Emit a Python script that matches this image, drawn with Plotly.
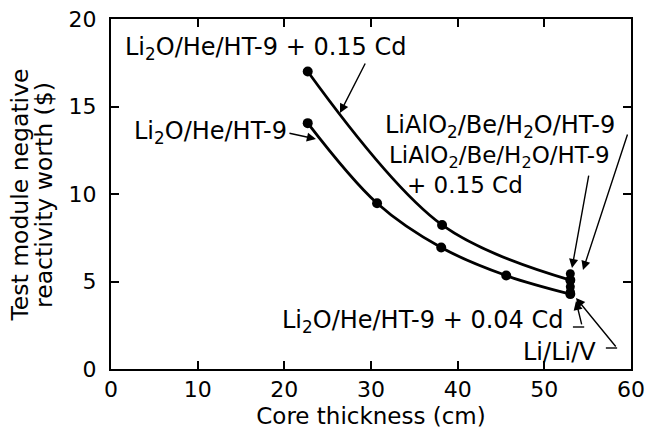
import plotly.graph_objects as go

# Data
upper_x = [22.7, 38.2, 53.0]
upper_y = [17.0, 8.23, 5.08]
lower_x = [22.7, 30.7, 38.1, 45.6, 53.0]
lower_y = [14.05, 9.47, 6.94, 5.34, 4.28]
cluster_x = [53.0, 53.0, 53.0, 53.0]
cluster_y = [5.45, 5.05, 4.7, 4.42]
x_ticks = [0, 10, 20, 30, 40, 50, 60]
y_ticks = [0, 5, 10, 15, 20]

FONT = "DejaVu Sans"
BLACK = "black"

fig = go.Figure()
fig.add_trace(go.Scatter(x=upper_x, y=upper_y, mode="lines+markers",
                         line=dict(color=BLACK, width=2.8, shape="spline", smoothing=1.0),
                         marker=dict(color=BLACK, size=10), showlegend=False))
fig.add_trace(go.Scatter(x=lower_x, y=lower_y, mode="lines+markers",
                         line=dict(color=BLACK, width=2.8, shape="spline", smoothing=1.0),
                         marker=dict(color=BLACK, size=10), showlegend=False))
fig.add_trace(go.Scatter(x=cluster_x, y=cluster_y, mode="markers",
                         marker=dict(color=BLACK, size=9), showlegend=False))

def arrow(hx, hy, tx, ty):
    fig.add_annotation(x=hx, y=hy, ax=tx, ay=ty, xref="x", yref="y", axref="x", ayref="y",
                       text="", showarrow=True, arrowhead=2, arrowsize=1.3,
                       arrowwidth=1.4, arrowcolor=BLACK)

arrow(26.42, 14.63, 29.42, 17.54)
arrow(23.65, 13.14, 20.42, 13.49)
arrow(54.46, 5.66, 59.65, 13.49)
arrow(53.19, 5.77, 55.15, 11.14)
arrow(53.65, 3.89, 54.35, 2.46)
arrow(53.65, 4.06, 58.38, 1.2)

# tail hooks
fig.add_shape(type="line", x0=57.1, x1=58.4, y0=1.2, y1=1.2, line=dict(color=BLACK, width=1.4))
fig.add_shape(type="line", x0=53.3, x1=54.6, y0=2.4, y1=2.4, line=dict(color=BLACK, width=1.4))

def label(x, y, text, xanchor, size=24):
    fig.add_annotation(x=x, y=y, xref="x", yref="y", text=text, showarrow=False,
                       xanchor=xanchor, yanchor="middle",
                       font=dict(family=FONT, size=size, color=BLACK))

label(1.38, 18.34, "Li<sub>2</sub>O/He/HT-9 + 0.15 Cd", "left")
label(2.42, 13.49, "Li<sub>2</sub>O/He/HT-9", "left")
label(58.38, 13.83, "LiAlO<sub>2</sub>/Be/H<sub>2</sub>O/HT-9", "right")
label(57.8, 12.14, "LiAlO<sub>2</sub>/Be/H<sub>2</sub>O/HT-9", "right", size=23)
label(47.77, 10.5, "+ 0.15 Cd", "right", size=23)
label(52.38, 2.69, "Li<sub>2</sub>O/He/HT-9 + 0.04 Cd", "right")
label(56.19, 0.97, "Li/Li/V", "right")

# y-axis title as two rotated lines
for xp, txt in [(-0.174, "Test module negative"), (-0.129, "reactivity worth ($)")]:
    fig.add_annotation(x=xp, y=0.497, xref="paper", yref="paper", text=txt, showarrow=False,
                       textangle=-90, xanchor="center", yanchor="middle",
                       font=dict(family=FONT, size=23.5, color=BLACK))

axis_common = dict(showgrid=False, zeroline=False, showline=True, linecolor=BLACK, linewidth=2,
                   mirror="allticks", ticks="inside", ticklen=8, tickwidth=2, tickcolor=BLACK,
                   tickfont=dict(family=FONT, size=22, color=BLACK))

fig.update_xaxes(range=[0, 60], tickvals=x_ticks, ticktext=[str(v) for v in x_ticks],
                 title=dict(text="Core thickness (cm)", font=dict(family=FONT, size=23, color=BLACK),
                            standoff=6), **axis_common)
fig.update_yaxes(range=[0, 20], tickvals=y_ticks, ticktext=[str(v) for v in y_ticks],
                 ticklabelstandoff=8, **axis_common)

fig.update_layout(width=650, height=435, margin=dict(l=111, r=19, t=19, b=66, autoexpand=False),
                  paper_bgcolor="white", plot_bgcolor="white", showlegend=False,
                  font=dict(family=FONT, color=BLACK))

fig.write_html("out.html")
